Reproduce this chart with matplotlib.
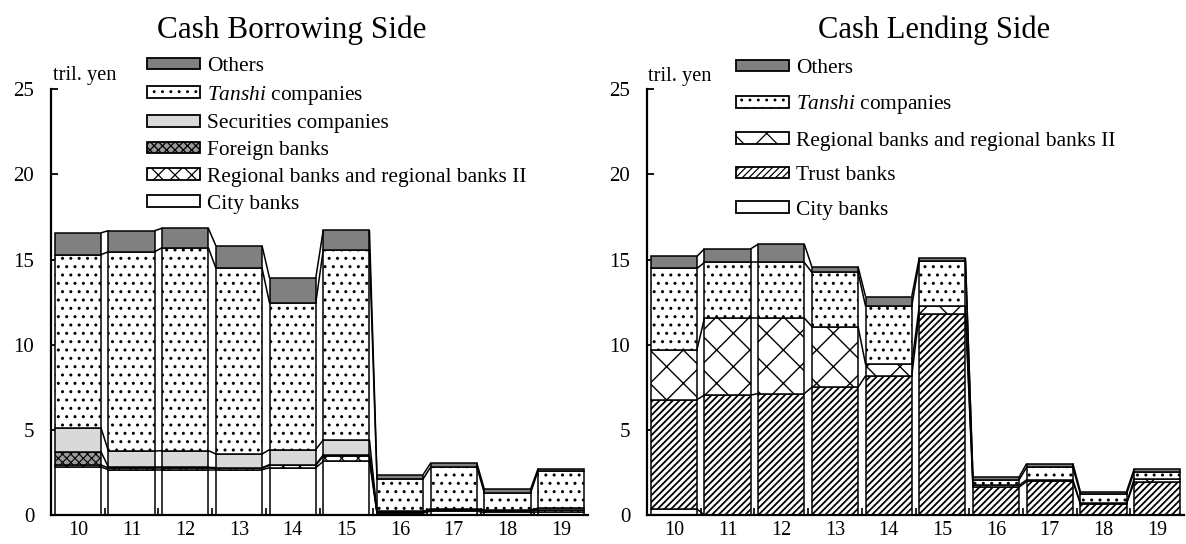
import matplotlib
matplotlib.use("Agg")
import matplotlib.pyplot as plt
from matplotlib.patches import Patch
from matplotlib.ticker import FixedLocator
import numpy as np

plt.rcParams['font.family'] = ['Liberation Serif', 'DejaVu Serif']
plt.rcParams['mathtext.fontset'] = 'custom'
plt.rcParams['mathtext.rm'] = 'Liberation Serif'
plt.rcParams['mathtext.it'] = 'Liberation Serif:italic'
plt.rcParams['hatch.linewidth'] = 0.9

years = ['10', '11', '12', '13', '14', '15', '16', '17', '18', '19']

# Cash borrowing side (tril. yen)
borrow_city = [2.82, 2.66, 2.66, 2.66, 2.78, 3.15, 0.12, 0.22, 0.15, 0.18]
borrow_regional = [0.12, 0.10, 0.10, 0.08, 0.14, 0.30, 0.04, 0.08, 0.08, 0.10]
borrow_foreign = [0.78, 0.04, 0.04, 0.04, 0.04, 0.08, 0.02, 0.04, 0.04, 0.04]
borrow_securities = [1.40, 0.95, 0.98, 0.80, 0.88, 0.88, 0.03, 0.03, 0.03, 0.08]
borrow_tanshi = [10.17, 11.71, 11.92, 10.92, 8.61, 11.16, 1.91, 2.45, 0.98, 2.20]
borrow_others = [1.28, 1.24, 1.14, 1.31, 1.46, 1.16, 0.25, 0.23, 0.23, 0.12]

# Cash lending side (tril. yen)
lend_city = [0.35, 0.0, 0.0, 0.0, 0.0, 0.0, 0.0, 0.0, 0.0, 0.0]
lend_trust = [6.43, 7.04, 7.13, 7.50, 8.17, 11.81, 1.64, 1.97, 0.66, 1.91]
lend_regional = [2.92, 4.52, 4.43, 3.57, 0.68, 0.45, 0.10, 0.10, 0.03, 0.19]
lend_tanshi = [4.78, 3.27, 3.27, 3.18, 3.41, 2.67, 0.33, 0.73, 0.54, 0.41]
lend_others = [0.71, 0.80, 1.07, 0.33, 0.57, 0.16, 0.16, 0.22, 0.15, 0.18]

W, H = 1186, 544
fig = plt.figure(figsize=(W / 100, H / 100), dpi=100)

styles = {
    'City banks': dict(facecolor='white', hatch=None, hlw=0.9),
    'Regional banks and regional banks II': dict(facecolor='white', hatch='xx', hlw=0.8),
    'Foreign banks': dict(facecolor='#9a9a9a', hatch='xxxx', hlw=0.8),
    'Securities companies': dict(facecolor='#d9d9d9', hatch=None, hlw=0.9),
    'Tanshi companies': dict(facecolor='white', hatch='..', hlw=1.0),
    'Others': dict(facecolor='#808080', hatch=None, hlw=0.9),
    'Trust banks': dict(facecolor='white', hatch='/////', hlw=1.3),
}
styles_right = dict(styles)
styles_right['Regional banks and regional banks II'] = dict(facecolor='white', hatch='x', hlw=1.0)

label_text = {
    'Tanshi companies': r'$\it{Tanshi}$ companies',
}


def draw(ax, layers, sty):
    n = len(years)
    x = np.arange(n)
    w = 0.86
    bottom = np.zeros(n)
    for name, vals in layers:
        vals = np.asarray(vals, dtype=float)
        st = sty[name]
        with plt.rc_context({'hatch.linewidth': st['hlw']}):
            ax.bar(x, vals, w, bottom=bottom, facecolor=st['facecolor'],
                   hatch=st['hatch'], edgecolor='black', linewidth=1.1, zorder=2)
        top = bottom + vals
        for i in range(n - 1):
            ax.plot([x[i] + w / 2, x[i + 1] - w / 2], [top[i], top[i + 1]],
                    color='black', lw=1.1, zorder=3, solid_capstyle='butt')
        bottom = top
    ax.set_xlim(-0.5, n - 0.5)
    ax.set_ylim(0, 25)
    for s in ['top', 'right']:
        ax.spines[s].set_visible(False)
    for s in ['left', 'bottom']:
        ax.spines[s].set_linewidth(1.6)
        ax.spines[s].set_zorder(5)
    ax.set_yticks([0, 5, 10, 15, 20, 25])
    ax.tick_params(axis='y', direction='in', length=5, width=1.3, pad=12, labelsize=15)
    ax.set_xticks(x)
    ax.set_xticklabels(years)
    ax.tick_params(axis='x', which='major', length=0, pad=4, labelsize=14.5)
    ax.xaxis.set_minor_locator(FixedLocator(np.arange(0.5, n - 1, 1.0)))
    ax.tick_params(axis='x', which='minor', direction='in', length=5, width=1.2)


ax1 = fig.add_axes([51 / W, (H - 515) / H, 537 / W, 425.7 / H])
draw(ax1, [('City banks', borrow_city),
           ('Regional banks and regional banks II', borrow_regional),
           ('Foreign banks', borrow_foreign),
           ('Securities companies', borrow_securities),
           ('Tanshi companies', borrow_tanshi),
           ('Others', borrow_others)], styles)

ax2 = fig.add_axes([647 / W, (H - 515) / H, 537 / W, 425.7 / H])
draw(ax2, [('City banks', lend_city),
           ('Trust banks', lend_trust),
           ('Regional banks and regional banks II', lend_regional),
           ('Tanshi companies', lend_tanshi),
           ('Others', lend_others)], styles_right)


def legend(names, sty, x_px, ytop_px, spacing):
    handles = []
    for nm in names:
        st = sty[nm]
        with plt.rc_context({'hatch.linewidth': st['hlw']}):
            handles.append(Patch(facecolor=st['facecolor'], hatch=st['hatch'],
                                 edgecolor='black', linewidth=1.3,
                                 label=label_text.get(nm, nm)))
    lg = fig.legend(handles=handles, loc='upper left',
                    bbox_to_anchor=(x_px / W, 1 - ytop_px / H),
                    frameon=False, fontsize=15.4, handlelength=2.5,
                    handleheight=0.45, handletextpad=0.3, labelspacing=spacing,
                    borderpad=0, borderaxespad=0)
    return lg


legend(['Others', 'Tanshi companies', 'Securities companies', 'Foreign banks',
        'Regional banks and regional banks II', 'City banks'],
       styles, 147, 57, 0.36)
legend(['Others', 'Tanshi companies', 'Regional banks and regional banks II',
        'Trust banks', 'City banks'],
       styles_right, 736, 59, 0.72)

fig.text(53 / W, 1 - 75 / H, 'tril. yen', fontsize=14.7, va='center', ha='left')
fig.text(648 / W, 1 - 77 / H, 'tril. yen', fontsize=14.7, va='center', ha='left')

fig.text(292 / W, 1 - 30 / H, 'Cash Borrowing Side', fontsize=22.5, ha='center', va='center')
fig.text(934 / W, 1 - 30 / H, 'Cash Lending Side', fontsize=22, ha='center', va='center')

fig.savefig('out.png', dpi=100)
